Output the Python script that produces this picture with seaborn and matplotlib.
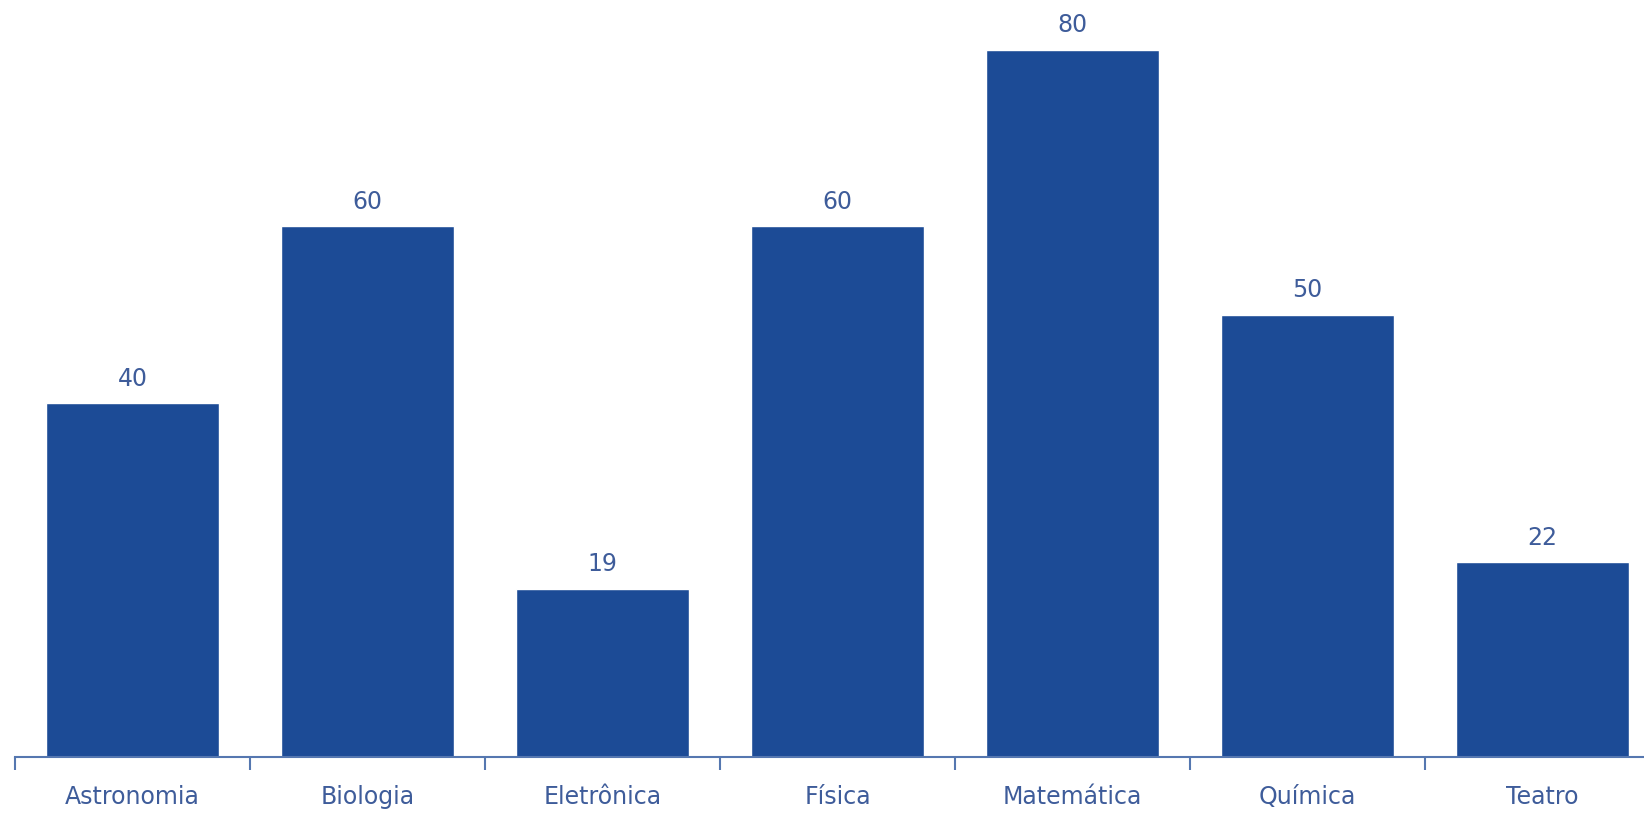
import matplotlib
matplotlib.use("Agg")
import matplotlib.pyplot as plt
import seaborn as sns
import pandas as pd
import numpy as np

# dados do gráfico
cursos = ["Astronomia", "Biologia", "Eletrônica", "Física", "Matemática", "Química", "Teatro"]
alunos = [40, 60, 19, 60, 80, 50, 22]

cor_barra = "#1C4B96"
cor_texto = "#3E5C9A"
cor_eixo = "#5577B0"

sns.set_style("white")
plt.rcParams['font.family'] = ['DejaVu Sans']

df = pd.DataFrame({"curso": cursos, "alunos": alunos})

fig = plt.figure(figsize=(16.44, 8.13), dpi=100)
# o eixo passa da borda direita, como no original
ax = fig.add_axes([15 / 1644, 56 / 813, 1645 / 1644, 757 / 813])

sns.barplot(data=df, x="curso", y="alunos", color=cor_barra, saturation=1,
            width=0.74, ax=ax)

ax.bar_label(ax.containers[0], fmt="%d", padding=9, color=cor_texto, fontsize=17)

ax.set_xlim(-0.5, len(cursos) - 0.5)
ax.set_ylim(0, 85.6)
ax.set_xlabel("")
ax.set_ylabel("")
ax.set_yticks([])

for lado in ["top", "right", "left"]:
    ax.spines[lado].set_visible(False)
ax.spines["bottom"].set_color(cor_eixo)
ax.spines["bottom"].set_linewidth(1.5)

ax.tick_params(axis="x", which="major", bottom=False, length=0, pad=20,
               labelsize=17, labelcolor=cor_texto)
ax.set_xticks(np.arange(-0.5, len(cursos), 1), minor=True)
ax.tick_params(axis="x", which="minor", bottom=True, length=9, width=1.5,
               color=cor_eixo, direction="out")

fig.savefig("out.png", dpi=100)
